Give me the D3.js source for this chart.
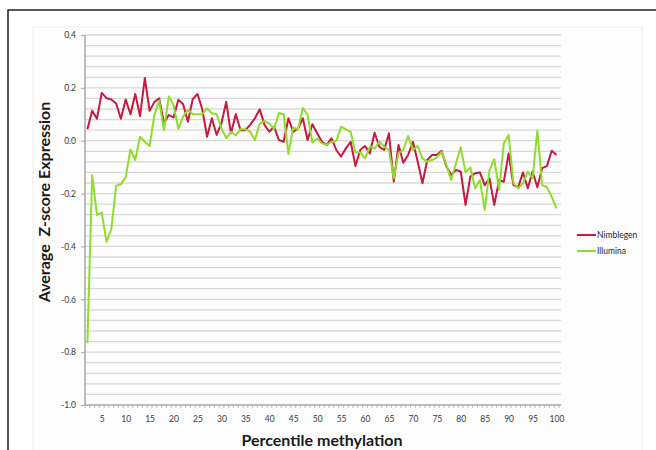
<!DOCTYPE html>
<html>
<head>
<meta charset="utf-8">
<script src="https://cdn.jsdelivr.net/npm/d3@7"></script>
<style>
  body { margin: 0; background: #fff; }
  svg { display: block; }
  text { font-family: Lato, "Open Sans", "DejaVu Sans", sans-serif; }
</style>
</head>
<body>
<svg id="chart" width="656" height="450"></svg>
<script>
// Percentile bins (x categories); the series start at the 2nd percentile
const percentiles = d3.range(2, 101);

// Average Z-score expression per methylation percentile
const nimblegen = [
  0.043, 0.113, 0.083, 0.181, 0.161, 0.156, 0.141, 0.083, 0.156, 0.100,
  0.177, 0.093, 0.237, 0.113, 0.147, 0.160, 0.066, 0.097, 0.088, 0.155,
  0.138, 0.072, 0.157, 0.177, 0.119, 0.015, 0.085, 0.022, 0.066, 0.147,
  0.028, 0.100, 0.040, 0.040, 0.060, 0.085, 0.119, 0.060, 0.034, 0.053,
  0.003, -0.004, 0.085, 0.033, 0.046, 0.085, 0.003, 0.062, 0.028, -0.004,
  -0.016, 0.009, -0.035, -0.060, -0.029, -0.004, -0.096, -0.035, -0.020, -0.048,
  0.030, -0.023, -0.035, 0.028, -0.155, -0.016, -0.083, -0.054, -0.004, -0.079,
  -0.161, -0.073, -0.054, -0.054, -0.038, -0.098, -0.130, -0.111, -0.117, -0.243,
  -0.136, -0.123, -0.120, -0.168, -0.142, -0.243, -0.149, -0.155, -0.048, -0.168,
  -0.176, -0.120, -0.180, -0.117, -0.176, -0.104, -0.096, -0.038, -0.054
];
const illumina = [
  -0.766, -0.131, -0.281, -0.272, -0.383, -0.335, -0.171, -0.164, -0.138, -0.033,
  -0.073, 0.015, -0.004, -0.020, 0.098, 0.152, 0.040, 0.167, 0.135, 0.045,
  0.092, 0.117, 0.100, 0.100, 0.100, 0.122, 0.104, 0.100, 0.047, 0.010,
  0.034, 0.020, 0.043, 0.043, 0.034, 0.003, 0.064, 0.075, 0.065, 0.045,
  0.105, 0.100, -0.050, 0.050, 0.043, 0.124, 0.098, -0.007, 0.008, -0.010,
  -0.015, -0.005, 0.000, 0.053, 0.043, 0.033, -0.045, -0.045, -0.067, -0.023,
  -0.030, -0.004, -0.023, -0.035, -0.142, -0.048, -0.035, 0.018, -0.035, -0.020,
  -0.067, -0.079, -0.073, -0.063, -0.042, -0.092, -0.149, -0.085, -0.025, -0.119,
  -0.101, -0.180, -0.149, -0.262, -0.111, -0.070, -0.186, -0.010, 0.022, -0.161,
  -0.180, -0.161, -0.117, -0.142, 0.038, -0.168, -0.176, -0.212, -0.256
];

const xTickLabels = [5, 10, 15, 20, 25, 30, 35, 40, 45, 50, 55, 60, 65, 70, 75, 80, 85, 90, 95, 100];
const yTickLabels = [0.4, 0.2, 0.0, -0.2, -0.4, -0.6, -0.8, -1.0];
const seriesNames = ["Nimblegen", "Illumina"];
const seriesColors = ["#c8193f", "#8fdc2a"];

const svg = d3.select("#chart");

// Outer frame and chart area
svg.append("rect")
  .attr("x", 8).attr("y", 10).attr("width", 700).attr("height", 500)
  .attr("fill", "#fff").attr("stroke", "#1f1f1f").attr("stroke-width", 1.5);
svg.append("rect")
  .attr("x", 33).attr("y", 27).attr("width", 609).attr("height", 460)
  .attr("fill", "#fdfdfd").attr("stroke", "#eeeeee");

const plotLeft = 85, plotRight = 561;
const x = d3.scaleLinear().domain([1, 100]).range([82.6, 556.5]);
const y = d3.scaleLinear().domain([-1.0, 0.4]).range([405, 35]);

// Horizontal gridlines every 0.04
const gridValues = d3.range(0, 36).map(i => -1.0 + i * 0.04);
svg.append("g").selectAll("line")
  .data(gridValues.filter(v => v > -0.99))
  .join("line")
  .attr("x1", plotLeft).attr("x2", plotRight)
  .attr("y1", d => y(d)).attr("y2", d => y(d))
  .attr("stroke", "#d9d9d9").attr("stroke-width", 1.3);

// Y axis
const yAxis = svg.append("g")
  .attr("transform", `translate(${plotLeft},0)`)
  .call(d3.axisLeft(y).tickValues(yTickLabels).tickFormat(d => d.toFixed(1)).tickSize(4).tickPadding(5));
yAxis.select(".domain").remove();
yAxis.selectAll(".tick line").attr("stroke", "#a6a6a6");
yAxis.selectAll(".tick text").attr("font-size", 8.5).attr("fill", "#3a3a3a")
  .style("font-family", "Lato, sans-serif");
svg.append("line")
  .attr("x1", plotLeft).attr("x2", plotLeft).attr("y1", y(0.4)).attr("y2", y(-1.0))
  .attr("stroke", "#a6a6a6").attr("stroke-width", 1.5);

// X axis: minor ticks for every percentile, labels every 5
const xAxis = svg.append("g")
  .attr("transform", `translate(0,${y(-1.0)})`)
  .call(d3.axisBottom(x).tickValues(xTickLabels).tickFormat(d3.format("d")).tickSize(0).tickPadding(11));
xAxis.select(".domain").remove();
xAxis.selectAll(".tick text").attr("font-size", 8.5).attr("fill", "#3a3a3a")
  .style("font-family", "Lato, sans-serif");
svg.append("g").selectAll("line")
  .data(d3.range(1, 101))
  .join("line")
  .attr("x1", d => x(d) + 2.4).attr("x2", d => x(d) + 2.4)
  .attr("y1", y(-1.0)).attr("y2", y(-1.0) + 3)
  .attr("stroke", "#b3b3b3").attr("stroke-width", 0.8);
svg.append("line")
  .attr("x1", plotLeft).attr("x2", plotRight).attr("y1", y(-1.0)).attr("y2", y(-1.0))
  .attr("stroke", "#a6a6a6").attr("stroke-width", 1.5);

// Series lines
const line = d3.line()
  .x((d, i) => x(percentiles[i]))
  .y(d => y(d));
[nimblegen, illumina].forEach((values, k) => {
  svg.append("path")
    .datum(values)
    .attr("fill", "none")
    .attr("stroke", seriesColors[k])
    .attr("stroke-width", 2)
    .attr("stroke-linejoin", "round")
    .attr("d", line);
});

// Legend
const legend = svg.append("g").attr("transform", "translate(577,235)");
seriesNames.forEach((name, k) => {
  const row = legend.append("g").attr("transform", `translate(0,${k * 16})`);
  row.append("line").attr("x1", 0).attr("x2", 19).attr("y1", 0).attr("y2", 0)
    .attr("stroke", seriesColors[k]).attr("stroke-width", 2);
  row.append("text").attr("x", 20).attr("y", 3)
    .attr("font-size", 8.5).attr("fill", "#262626").text(name);
});

// Axis titles
svg.append("text")
  .attr("transform", "translate(50,202) rotate(-90)")
  .attr("text-anchor", "middle")
  .attr("font-size", 16).attr("font-weight", "bold").attr("fill", "#1a1a1a")
  .style("white-space", "pre")
  .text("Average  Z-score Expression");
svg.append("text")
  .attr("x", 322).attr("y", 446)
  .attr("text-anchor", "middle")
  .attr("font-size", 16).attr("font-weight", "bold").attr("fill", "#1a1a1a")
  .text("Percentile methylation");
</script>
</body>
</html>
